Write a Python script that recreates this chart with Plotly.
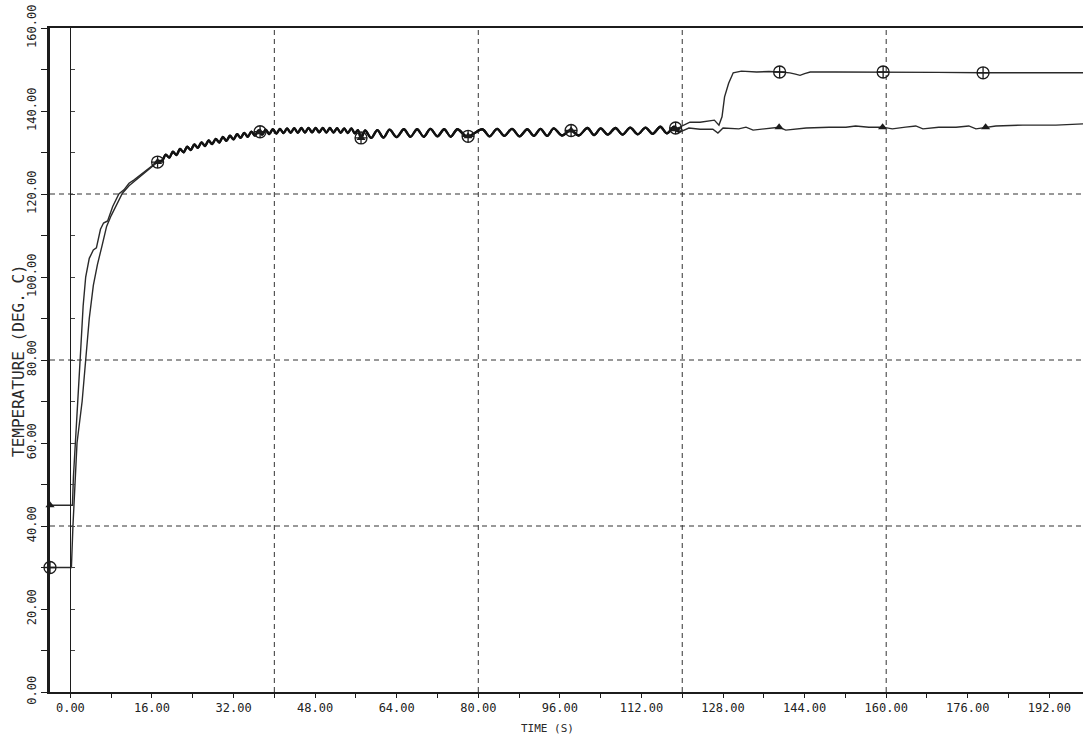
import plotly.graph_objects as go

# ---------------- data ----------------
# triangle series: initial plateau and rise
tri_rise_t = [-4.0, 0.4, 0.6, 1.0, 1.5, 2.0, 2.5, 3.0, 3.7, 4.5, 5.1, 5.9, 6.5, 7.3, 8.3, 9.5,
              10.5, 11.5, 12.5, 13.5, 14.5, 15.5, 16.5, 17.3]
tri_rise_T = [45.0, 45.0, 52.0, 60.0, 70.0, 82.0, 93.0, 100.0, 104.5, 106.5, 107.0, 111.5, 113.0,
              113.5, 117.0, 120.0, 121.0, 122.6, 123.4, 124.4, 125.2, 126.3, 127.2, 128.0]

# circle series: initial plateau and rise
circ_rise_t = [-4.0, 0.2, 0.5, 0.9, 1.3, 2.3, 3.0, 3.7, 4.5, 5.3, 6.2, 7.1, 8.0, 9.0, 10.2,
               11.5, 12.5, 13.5, 14.5, 15.5, 16.5, 17.3]
circ_rise_T = [30.0, 30.0, 40.0, 51.0, 60.0, 70.0, 80.0, 90.0, 98.0, 103.0, 107.5, 112.2, 114.8,
               117.3, 120.2, 122.0, 123.0, 124.2, 125.0, 126.0, 127.0, 127.9]

# oscillating part where both series coincide
common_t = [18.0, 18.7, 19.4, 20.1, 20.8, 21.5, 22.2, 22.9, 23.6, 24.3, 25.0, 25.7, 26.4, 27.1,
            27.8, 28.5, 29.2, 29.9, 30.6, 31.3, 32.0, 32.7, 33.4, 34.1, 34.8, 35.5, 36.2, 36.9,
            37.6, 38.3, 39.0, 39.7, 40.4, 41.1, 41.8, 42.5, 43.2, 43.9, 44.6, 45.3, 46.0, 46.7,
            47.4, 48.1, 48.8, 49.5, 50.2, 50.9, 51.6, 52.3, 53.0, 53.7, 54.4, 55.1, 55.8,
            56.4, 57.0, 57.8, 59.0, 60.2, 61.4, 62.6, 64.0, 65.4, 66.7, 68.0, 69.3, 70.6, 72.0,
            73.3, 74.6, 75.9, 77.8,
            80.8, 82.2, 83.7, 85.1, 86.6, 88.1, 89.6, 90.9, 92.2, 93.5, 94.8, 96.4, 98.1, 99.7,
            101.4, 102.7, 104.0, 105.4, 106.9, 108.3, 109.8, 111.3, 112.8, 114.2, 115.7, 117.0,
            118.4, 119.0]
common_T = [128.05, 129.5, 128.75, 130.2, 129.4, 130.85, 130.05, 131.4, 130.6, 131.95,
            131.1, 132.45, 131.55, 132.9, 132.0, 133.3, 132.4, 133.75, 132.8, 134.05,
            133.15, 134.4, 133.5, 134.75, 133.8, 135.05, 134.05, 135.3, 134.3, 135.5,
            134.45, 135.6, 134.55, 135.7, 134.65, 135.8, 134.75, 135.85, 134.75, 135.9,
            134.8, 135.95, 134.85, 135.95, 134.85, 135.9, 134.8, 135.9, 134.8, 135.85,
            134.75, 135.8, 134.7, 135.8, 134.6,
            135.4, 133.4, 135.3, 133.5, 135.4, 133.6, 135.5, 133.7, 135.6, 133.8, 135.6, 133.8,
            135.7, 133.9, 135.6, 133.8, 135.6, 133.8,
            135.6, 133.9, 135.7, 134.0, 135.7, 133.9, 135.6, 134.0, 135.7, 134.0, 135.8, 134.1,
            135.4, 134.1, 135.9, 134.2, 135.8, 134.3, 135.9, 134.3, 136.0, 134.4, 136.0, 134.5,
            136.2, 134.6, 136.2, 135.2]

# tails after the two series separate
circ_tail_t = [119.5, 121.5, 123.5, 125.0, 126.3, 127.2, 127.8, 128.3, 129.1, 130.0, 131.6, 134.6,
               137.0, 139.1, 141.1, 142.2, 143.1, 144.0, 145.1, 150.0, 156.3, 159.4, 170.0,
               179.0, 188.0, 198.6]
circ_tail_T = [136.1, 137.3, 137.3, 137.5, 137.8, 136.6, 138.6, 143.4, 146.7, 149.2, 149.6, 149.4,
               149.5, 149.4, 149.2, 148.9, 148.6, 149.0, 149.4, 149.4, 149.4, 149.4, 149.3,
               149.2, 149.2, 149.2]
tri_tail_t = [119.5, 121.3, 123.5, 126.0, 127.0, 128.0, 131.1, 132.5, 133.9, 137.0, 139.0, 140.3,
              144.3, 148.8, 152.1, 154.0, 156.6, 159.3, 161.2, 163.8, 165.8, 167.2, 170.3,
              173.7, 176.2, 177.6, 179.5, 181.5, 186.8, 193.3, 198.6]
tri_tail_T = [134.9, 135.9, 135.6, 135.6, 134.7, 135.9, 135.7, 136.1, 135.4, 135.9, 136.1, 135.4,
              135.9, 136.1, 136.1, 136.4, 136.1, 136.1, 135.7, 136.1, 136.4, 135.7, 136.1,
              136.1, 136.4, 135.7, 136.1, 136.4, 136.6, 136.6, 136.9]

# marker positions
circ_mark_t = [-4.0, 17.1, 37.2, 57.0, 78.0, 98.2, 118.7, 139.1, 159.4, 179.0]
circ_mark_T = [30.0, 127.7, 135.0, 133.5, 133.9, 135.3, 135.9, 149.4, 149.4, 149.2]
tri_mark_t = [-4.0, 17.1, 37.2, 57.0, 78.0, 98.2, 118.7, 139.0, 159.3, 179.5]
tri_mark_T = [45.0, 127.7, 134.9, 133.5, 133.9, 135.3, 135.6, 136.1, 136.1, 136.1]

# axes
x_tick_vals = [0, 8, 16, 24, 32, 40, 48, 56, 64, 72, 80, 88, 96, 104, 112, 120, 128, 136, 144,
               152, 160, 168, 176, 184, 192]
x_tick_text = ["0.00", "", "16.00", "", "32.00", "", "48.00", "", "64.00", "", "80.00", "",
               "96.00", "", "112.00", "", "128.00", "", "144.00", "", "160.00", "", "176.00",
               "", "192.00"]
y_tick_vals = [0, 10, 20, 30, 40, 50, 60, 70, 80, 90, 100, 110, 120, 130, 140, 150, 160]
y_tick_text = ["0.00", "", "20.00", "", "40.00", "", "60.00", "", "80.00", "", "100.00", "",
               "120.00", "", "140.00", "", "160.00"]
grid_x = [40, 80, 120, 160]
grid_y = [40, 80, 120]
x_range = [-4.0, 198.6]
y_range = [0, 160]

# ---------------- figure ----------------
INK = "#1c1c1c"
FONT = "DejaVu Sans Mono"

fig = go.Figure()
# each series drawn in three pieces (rise, coinciding oscillation, tail) joined end to end
for rise_t, rise_T, tail_t, tail_T in [(circ_rise_t, circ_rise_T, circ_tail_t, circ_tail_T),
                                       (tri_rise_t, tri_rise_T, tri_tail_t, tri_tail_T)]:
    fig.add_trace(go.Scatter(x=rise_t, y=rise_T, mode="lines",
                             line=dict(color="#2a2a2a", width=1.4), showlegend=False))
    fig.add_trace(go.Scatter(x=[rise_t[-1]] + common_t + [tail_t[0]],
                             y=[rise_T[-1]] + common_T + [tail_T[0]], mode="lines",
                             line=dict(color="#111111", width=2.3, shape="spline", smoothing=0.9),
                             showlegend=False))
    fig.add_trace(go.Scatter(x=tail_t, y=tail_T, mode="lines",
                             line=dict(color="#2a2a2a", width=1.4), showlegend=False))

fig.add_trace(go.Scatter(x=circ_mark_t, y=circ_mark_T, mode="markers", cliponaxis=False,
                         marker=dict(symbol="circle-cross-open", size=12, color=INK,
                                     line=dict(width=1.3, color=INK)),
                         showlegend=False))
fig.add_trace(go.Scatter(x=tri_mark_t, y=tri_mark_T, mode="markers", cliponaxis=False,
                         marker=dict(symbol="triangle-up", size=8, color=INK),
                         showlegend=False))
# secondary (x = 0) vertical axis drawn by the plotting package
fig.add_trace(go.Scatter(x=[None], y=[None], yaxis="y2", showlegend=False))

shapes = []
for gx in grid_x:
    shapes.append(dict(type="line", xref="x", yref="y", x0=gx, x1=gx, y0=y_range[0], y1=y_range[1],
                       line=dict(color="#333333", width=1, dash="5px,4px"), layer="below"))
for gy in grid_y:
    shapes.append(dict(type="line", xref="x", yref="y", x0=x_range[0], x1=x_range[1], y0=gy, y1=gy,
                       line=dict(color="#333333", width=1, dash="5px,4px"), layer="below"))

fig.update_layout(
    width=1083, height=742,
    margin=dict(l=50, r=0, t=28, b=50),
    paper_bgcolor="white", plot_bgcolor="white",
    shapes=shapes,
    xaxis=dict(range=x_range, showline=True, linewidth=2, linecolor=INK, mirror=True,
               ticks="outside", ticklen=4, tickwidth=1, tickcolor=INK,
               tickmode="array", tickvals=x_tick_vals, ticktext=x_tick_text,
               tickfont=dict(family=FONT, size=12, color="#222222"),
               showgrid=False, zeroline=False),
    yaxis=dict(range=y_range, showline=True, linewidth=3, linecolor=INK,
               ticks="outside", ticklen=6, tickwidth=1, tickcolor=INK,
               tickmode="array", tickvals=y_tick_vals, ticktext=y_tick_text, tickangle=-90,
               tickfont=dict(family=FONT, size=12, color="#222222"),
               showgrid=False, zeroline=False),
    yaxis2=dict(range=y_range, overlaying="y", anchor="free",
                position=(0 - x_range[0]) / (x_range[1] - x_range[0]),
                showline=True, linewidth=1, linecolor=INK, ticks="inside", ticklen=4,
                tickmode="array", tickvals=y_tick_vals, showticklabels=False,
                showgrid=False, zeroline=False),
    annotations=[
        dict(text="TEMPERATURE (DEG. C)", xref="paper", yref="paper", x=-0.031, y=0.5,
             textangle=-90, showarrow=False, xanchor="center", yanchor="middle",
             font=dict(family=FONT, size=16, color="#2a2a2a")),
        dict(text="TIME (S)", xref="x", yref="paper", x=93.5, y=-0.055,
             showarrow=False, xanchor="center", yanchor="middle",
             font=dict(family=FONT, size=11, color="#2a2a2a")),
    ],
)

fig.write_html("out.html")
